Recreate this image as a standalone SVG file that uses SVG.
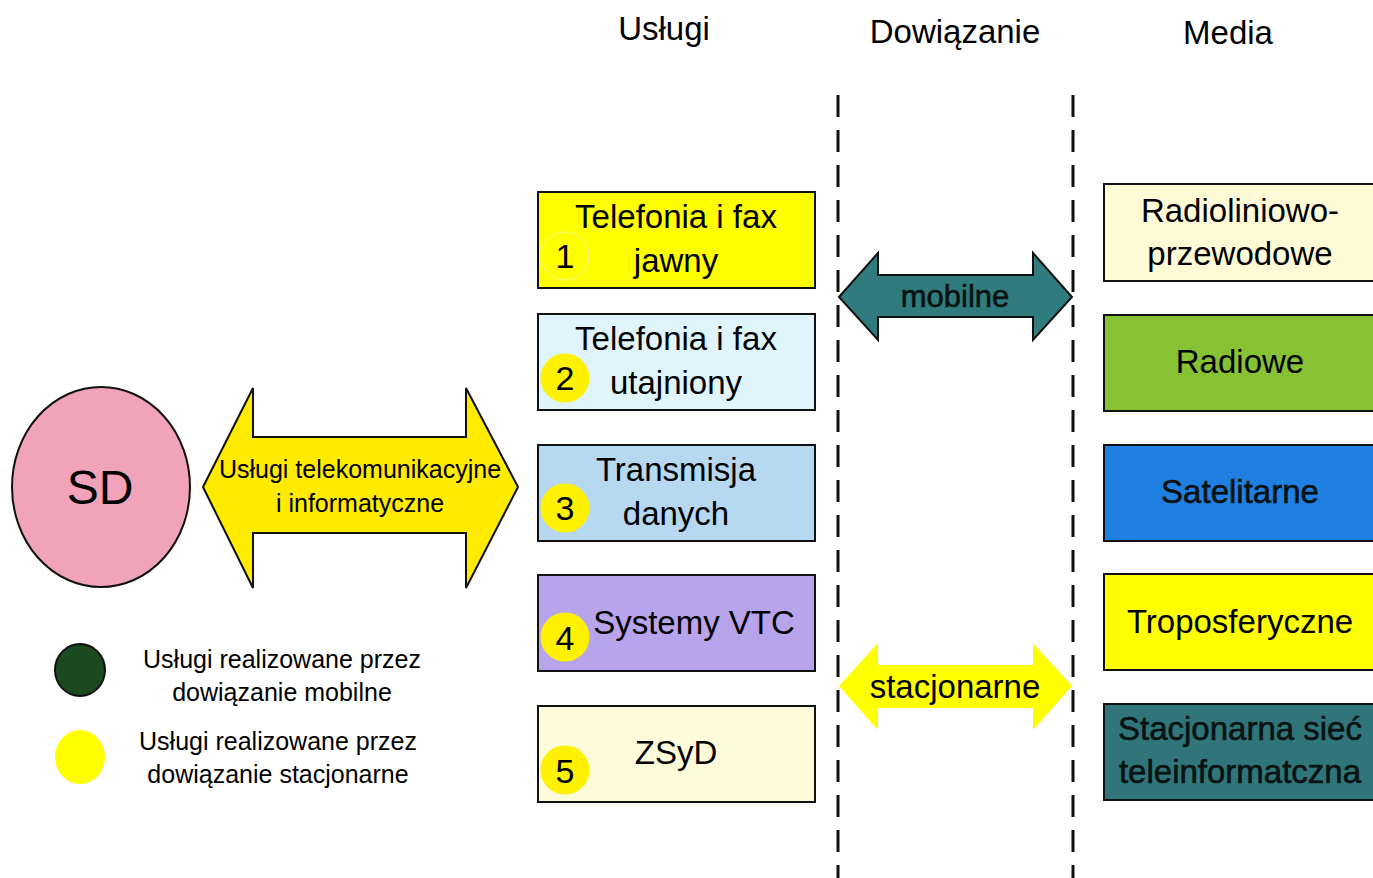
<svg xmlns="http://www.w3.org/2000/svg" width="1373" height="878" viewBox="0 0 1373 878">
  <style>
    text { font-family: "Liberation Sans", Arial, sans-serif; fill: #000; text-anchor: middle; }
    .head { font-size: 33px; }
    .box { stroke: #111; stroke-width: 2; }
    .lbl { font-size: 33px; }
    .num { font-size: 34px; }
    .leg { font-size: 25px; }
    .dash { stroke: #111; stroke-width: 3; stroke-dasharray: 22 13; fill: none; }
    .badge { fill: #fff200; }
    .dark { fill: #0a1212; stroke: #0a1212; stroke-width: 0.6; }
  </style>

  <rect width="1373" height="878" fill="#ffffff"/>

  <!-- column headers -->
  <g id="headers">
    <text class="head" x="664" y="40">Usługi</text>
    <text class="head" x="955" y="43">Dowiązanie</text>
    <text class="head" x="1228" y="44">Media</text>
  </g>

  <!-- column separators -->
  <g id="separators">
    <line class="dash" x1="838" y1="95" x2="838" y2="878"/>
    <line class="dash" x1="1073" y1="95" x2="1073" y2="878"/>
  </g>

  <!-- SD node -->
  <g id="sd">
    <ellipse cx="101" cy="487" rx="89" ry="100" fill="#f0a3b9" stroke="#111" stroke-width="2"/>
    <text x="100" y="504" style="font-size:48px">SD</text>
  </g>

  <!-- connectors -->
  <g id="connectors">
    <g id="link-services">
      <polygon points="203,487 253,388 253,437 466,437 466,388 518,487 466,588 466,533 253,533 253,588"
               fill="#ffeb00" stroke="#111" stroke-width="2"/>
      <text x="360" y="478" style="font-size:25px">Usługi telekomunikacyjne</text>
      <text x="360" y="512" style="font-size:25px">i informatyczne</text>
    </g>
    <g id="link-mobile">
      <polygon points="839,297 878,253 878,275 1033,275 1033,253 1072,297 1033,340 1033,317 878,317 878,340"
               fill="#2f7b7d" stroke="#111" stroke-width="2"/>
      <text x="955" y="307" class="dark" style="font-size:31px">mobilne</text>
    </g>
    <g id="link-fixed">
      <polygon points="839,686 878,643 878,665 1033,665 1033,643 1072,686 1033,730 1033,708 878,708 878,730"
               fill="#ffff00"/>
      <text x="955" y="698" class="lbl">stacjonarne</text>
    </g>
  </g>

  <!-- services -->
  <g id="svc1">
    <rect class="box" x="538" y="192" width="277" height="96" fill="#ffff00"/>
    <circle cx="565" cy="256" r="24" fill="#ffff00" stroke="#f6f4c0" stroke-width="0.8"/>
    <text class="num" x="565" y="268">1</text>
    <text class="lbl" x="676" y="228">Telefonia i fax</text>
    <text class="lbl" x="676" y="272">jawny</text>
  </g>
  <g id="svc2">
    <rect class="box" x="538" y="314" width="277" height="96" fill="#e0f4fb"/>
    <circle class="badge" cx="565" cy="378" r="24.5"/>
    <text class="num" x="565" y="390">2</text>
    <text class="lbl" x="676" y="350">Telefonia i fax</text>
    <text class="lbl" x="676" y="394">utajniony</text>
  </g>
  <g id="svc3">
    <rect class="box" x="538" y="445" width="277" height="96" fill="#b6d8f1"/>
    <circle class="badge" cx="565" cy="508" r="24.5"/>
    <text class="num" x="565" y="520">3</text>
    <text class="lbl" x="676" y="481">Transmisja</text>
    <text class="lbl" x="676" y="525">danych</text>
  </g>
  <g id="svc4">
    <rect class="box" x="538" y="575" width="277" height="96" fill="#b8a4ea"/>
    <circle class="badge" cx="565" cy="637" r="24.5"/>
    <text class="num" x="565" y="650">4</text>
    <text class="lbl" x="694" y="634">Systemy VTC</text>
  </g>
  <g id="svc5">
    <rect class="box" x="538" y="706" width="277" height="96" fill="#fdfbd9"/>
    <circle class="badge" cx="565" cy="770" r="24.5"/>
    <text class="num" x="565" y="783">5</text>
    <text class="lbl" x="676" y="764">ZSyD</text>
  </g>

  <!-- media -->
  <g id="media1">
    <rect class="box" x="1104" y="184" width="280" height="97" fill="#fdfad5"/>
    <text class="lbl" x="1240" y="222">Radioliniowo-</text>
    <text class="lbl" x="1240" y="265">przewodowe</text>
  </g>
  <g id="media2">
    <rect class="box" x="1104" y="315" width="280" height="96" fill="#86c234"/>
    <text class="lbl" x="1240" y="373">Radiowe</text>
  </g>
  <g id="media3">
    <rect class="box" x="1104" y="445" width="280" height="96" fill="#1f80e2"/>
    <text class="lbl dark" x="1240" y="503">Satelitarne</text>
  </g>
  <g id="media4">
    <rect class="box" x="1104" y="574" width="280" height="96" fill="#ffff00"/>
    <text class="lbl" x="1240" y="633">Troposferyczne</text>
  </g>
  <g id="media5">
    <rect class="box" x="1104" y="704" width="280" height="96" fill="#2f7579"/>
    <text class="lbl dark" x="1240" y="740">Stacjonarna sieć</text>
    <text class="lbl dark" x="1240" y="783">teleinformatczna</text>
  </g>

  <!-- legend -->
  <g id="legend-mobile">
    <ellipse cx="80" cy="670" rx="25" ry="26" fill="#1b4a1f" stroke="#111" stroke-width="2"/>
    <text class="leg" x="282" y="668">Usługi realizowane przez</text>
    <text class="leg" x="282" y="701">dowiązanie mobilne</text>
  </g>
  <g id="legend-fixed">
    <ellipse cx="80" cy="757" rx="25" ry="27" fill="#ffff00"/>
    <text class="leg" x="278" y="750">Usługi realizowane przez</text>
    <text class="leg" x="278" y="783">dowiązanie stacjonarne</text>
  </g>
</svg>
